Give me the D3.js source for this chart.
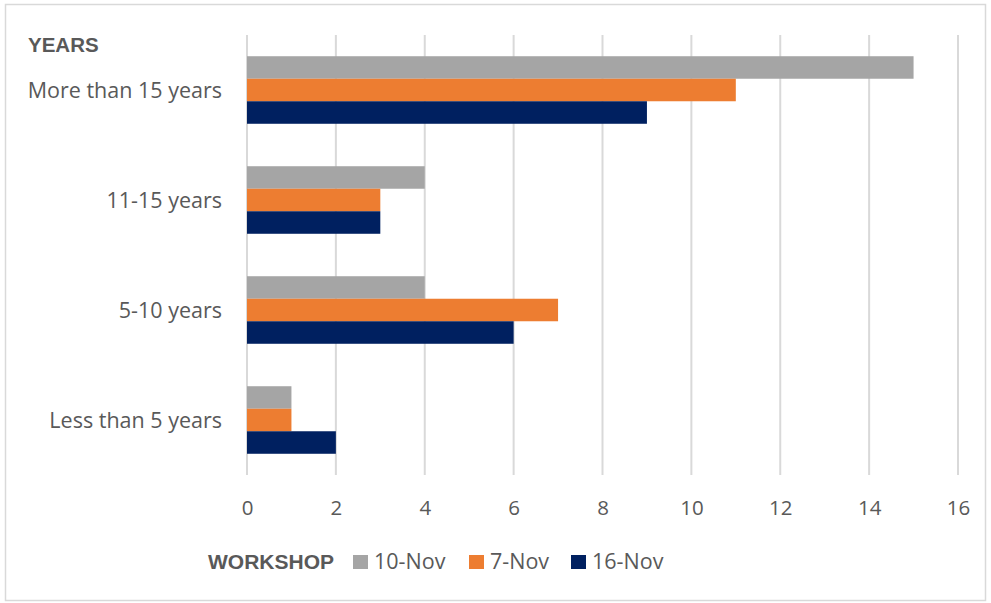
<!DOCTYPE html>
<html><head><meta charset="utf-8">
<script src="https://cdn.jsdelivr.net/npm/d3@7"></script>
<style>
html,body{margin:0;padding:0;background:#fff;}
text{font-family:"Open Sans","Liberation Sans",sans-serif;}
</style></head>
<body><svg id="c" width="991" height="603"></svg>
<script>
const categories = ["More than 15 years","11-15 years","5-10 years","Less than 5 years"];
const seriesNames = ["10-Nov","7-Nov","16-Nov"];
const seriesColors = ["#A5A5A5","#ED7D31","#002060"];
const values10Nov = [15,4,4,1];
const values7Nov = [11,3,7,1];
const values16Nov = [9,3,6,2];
const xTicks = [0,2,4,6,8,10,12,14,16];
const seriesValues = [values10Nov, values7Nov, values16Nov];

(function(){
const svg = d3.select("#c");
svg.append("rect").attr("x",5.5).attr("y",4.5).attr("width",980).attr("height",596)
  .attr("fill","#fff").attr("stroke","#D9D9D9").attr("stroke-width",1.5);

const pLeft=247, pRight=958, pTop=35, pBottom=475;
const x = d3.scaleLinear().domain([0,16]).range([pLeft,pRight]);
const y = d3.scaleBand().domain(categories).range([pTop,pBottom]).paddingInner(0.386).paddingOuter(0.193);
const ySub = d3.scaleBand().domain(seriesNames).range([0,y.bandwidth()]);

// gridlines
svg.append("g").selectAll("line").data(xTicks).join("line")
  .attr("x1",d=>x(d)).attr("x2",d=>x(d)).attr("y1",pTop).attr("y2",pBottom)
  .attr("stroke","#D9D9D9").attr("stroke-width",2);

// bars
const data = [];
categories.forEach((c,i)=>seriesNames.forEach((s,j)=>data.push({c,s,v:seriesValues[j][i],color:seriesColors[j]})));
svg.append("g").selectAll("rect").data(data).join("rect")
  .attr("x",x(0)).attr("y",d=>y(d.c)+ySub(d.s))
  .attr("width",d=>x(d.v)-x(0)).attr("height",ySub.bandwidth())
  .attr("fill",d=>d.color);

// x axis labels
const xAxis = d3.axisBottom(x).tickValues(xTicks).tickSize(0).tickPadding(0);
const gx = svg.append("g").attr("transform",`translate(0,${pBottom})`).call(xAxis);
gx.select(".domain").remove();
gx.selectAll("text").attr("fill","#595959").attr("font-size",20.5).attr("dy",0).attr("y",40)
  .style("font-family",'"Open Sans","Liberation Sans",sans-serif');

// y axis labels
const yAxis = d3.axisLeft(y).tickSize(0).tickPadding(0);
const gy = svg.append("g").attr("transform",`translate(222,0)`).call(yAxis);
gy.select(".domain").remove();
gy.selectAll("text").attr("fill","#595959").attr("font-size",21.5).attr("dy","0.35em")
  .style("font-family",'"Open Sans","Liberation Sans",sans-serif');

// title
svg.append("text").attr("x",28).attr("y",52).text("YEARS")
  .attr("fill","#595959").attr("font-size",20.5).attr("font-weight","bold")
  .style("font-family",'"Liberation Sans",Arial,sans-serif');

// legend
const lg = svg.append("g");
lg.append("text").attr("x",208).attr("y",569).text("WORKSHOP")
  .attr("fill","#595959").attr("font-size",21).attr("font-weight","bold")
  .style("font-family",'"Liberation Sans",Arial,sans-serif');
const legX = [353,469,571];
seriesNames.forEach((s,i)=>{
  lg.append("rect").attr("x",legX[i]).attr("y",555).attr("width",15).attr("height",14).attr("fill",seriesColors[i]);
  lg.append("text").attr("x",legX[i]+21).attr("y",569).text(s)
    .attr("fill","#595959").attr("font-size",21.5);
});
})();
</script></body></html>
